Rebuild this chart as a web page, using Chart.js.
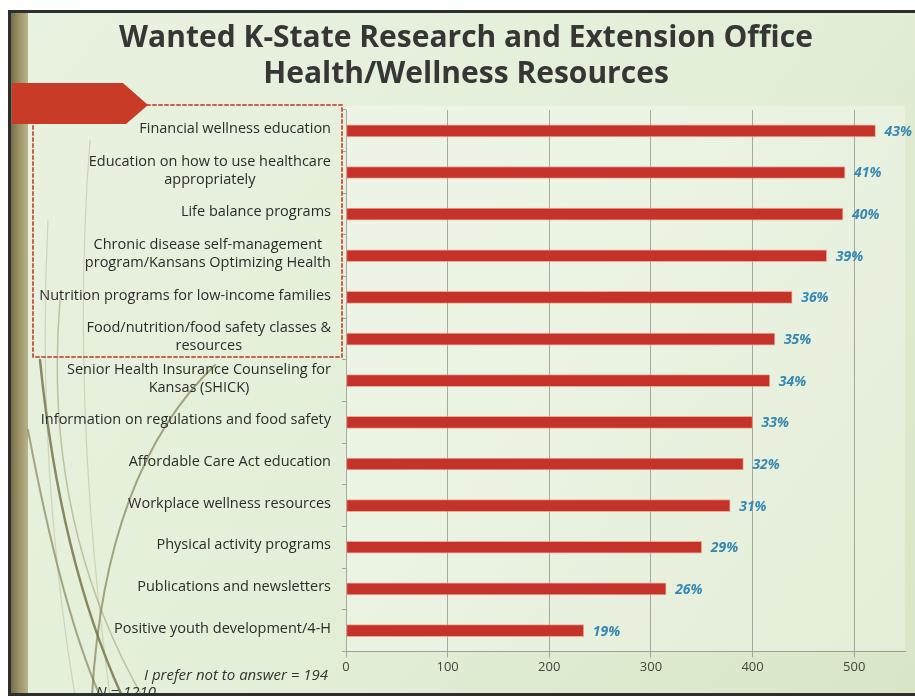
<!doctype html>
<html lang="en">
<head>
  <meta charset="utf-8">
  <title>Wanted K-State Research and Extension Office Health/Wellness Resources</title>
  <script src="https://cdn.jsdelivr.net/npm/chart.js"></script>
  <style>
    html, body { margin: 0; padding: 0; background: #fff; }
    #wrap { width: 915px; height: 696px; }
  </style>
</head>
<body>
<div id="wrap"><canvas id="bar-chart" width="915" height="696"></canvas></div>

<script>
// data (counts out of N = 1210)
var resources = [
  ["Financial wellness education"],
  ["Education on how to use healthcare", "appropriately"],
  ["Life balance programs"],
  ["Chronic disease self-management", "program/Kansans Optimizing Health"],
  ["Nutrition programs for low-income families"],
  ["Food/nutrition/food safety classes &", "resources"],
  ["Senior Health Insurance Counseling for", "Kansas (SHICK)"],
  ["Information on regulations and food safety"],
  ["Affordable Care Act education"],
  ["Workplace wellness resources"],
  ["Physical activity programs"],
  ["Publications and newsletters"],
  ["Positive youth development/4-H"]
];
var counts = [521, 491, 489, 473, 439, 422, 417, 400, 391, 378, 350, 315, 234];
var percents = ["43%", "41%", "40%", "39%", "36%", "35%", "34%", "33%", "32%", "31%", "29%", "26%", "19%"];
var xTicks = [0, 100, 200, 300, 400, 500];

var titleLines = ["Wanted K-State Research and Extension Office", "Health/Wellness Resources"];
var noAnswer = "I prefer not to answer = 194";
var total = "N = 1210";

var fontName = '"Open Sans", "DejaVu Sans", sans-serif';

// slide background, border strips, grass and the red banner
var slideBg = {
  id: 'slideBg',
  beforeDraw: function(chart) {
    var ctx = chart.ctx;
    var W = chart.width, H = chart.height;
    ctx.save();
    ctx.fillStyle = '#ffffff';
    ctx.fillRect(0, 0, W, H);

    var g = ctx.createLinearGradient(0, 0, W, H);
    g.addColorStop(0, '#e8f2e0');
    g.addColorStop(0.5, '#e4efd9');
    g.addColorStop(1, '#d8e6c6');
    ctx.fillStyle = g;
    ctx.fillRect(10, 12, W - 10, H - 12);

    // lighter plot area
    var a = chart.chartArea;
    ctx.fillStyle = 'rgba(255,255,255,0.3)';
    ctx.fillRect(a.left, a.top - 4, a.right - a.left, a.bottom - a.top + 4);

    // left olive strip
    var s = ctx.createLinearGradient(10, 0, 28, 0);
    s.addColorStop(0, '#6e6a45');
    s.addColorStop(0.5, '#9c9266');
    s.addColorStop(1, '#b8b48a');
    ctx.fillStyle = s;
    ctx.fillRect(10, 12, 18, H - 12);

    // grass blades
    ctx.lineCap = 'round';
    var blades = [
      [40, 360, 60, 560, 122, 696, 'rgba(105,100,55,0.75)', 2.5],
      [28, 430, 62, 610, 100, 696, 'rgba(120,115,65,0.6)', 2],
      [215, 365, 105, 470, 92, 696, 'rgba(115,110,60,0.6)', 2],
      [60, 300, 42, 520, 142, 696, 'rgba(140,135,85,0.45)', 1.5],
      [90, 140, 70, 400, 110, 696, 'rgba(150,145,95,0.3)', 1.2],
      [48, 220, 36, 460, 75, 696, 'rgba(150,145,95,0.3)', 1.2]
    ];
    blades.forEach(function(b) {
      ctx.beginPath();
      ctx.moveTo(b[0], b[1]);
      ctx.quadraticCurveTo(b[2], b[3], b[4], b[5]);
      ctx.strokeStyle = b[6];
      ctx.lineWidth = b[7];
      ctx.stroke();
    });

    // dashed highlight box
    ctx.setLineDash([3, 3]);
    ctx.strokeStyle = 'rgba(195,70,55,0.85)';
    ctx.lineWidth = 2;
    ctx.strokeRect(33, 105, 309, 252);
    ctx.setLineDash([]);

    // red banner arrow
    ctx.beginPath();
    ctx.moveTo(12, 83);
    ctx.lineTo(123, 83);
    ctx.lineTo(148, 105);
    ctx.lineTo(126, 124);
    ctx.lineTo(12, 124);
    ctx.closePath();
    ctx.fillStyle = '#c73b27';
    ctx.fill();

    // top and left dark edges
    ctx.fillStyle = '#2e2e2e';
    ctx.fillRect(8, 10, W - 8, 3);
    ctx.fillRect(8, 10, 3, H - 10);
    ctx.restore();
  },
  afterDraw: function(chart) {
    var ctx = chart.ctx;
    var W = chart.width, H = chart.height;
    ctx.save();
    // title
    ctx.fillStyle = '#363636';
    ctx.font = 'bold 30px ' + fontName;
    ctx.textAlign = 'center';
    ctx.textBaseline = 'middle';
    ctx.fillText(titleLines[0], 466, 38);
    ctx.fillText(titleLines[1], 466, 74);

    // footnotes
    ctx.font = 'italic 15px ' + fontName;
    ctx.fillStyle = '#333';
    ctx.textAlign = 'right';
    ctx.fillText(noAnswer, 328, 676);
    ctx.textAlign = 'left';
    ctx.textBaseline = 'top';
    ctx.fillText(total, 96, 685);

    // bottom dark edge
    ctx.fillStyle = '#2e2e2e';
    ctx.fillRect(8, H - 3, W - 8, 3);
    ctx.restore();
  }
};

// category labels: single lines right-aligned, two-line ones centred as a block
var catLabels = {
  id: 'catLabels',
  afterDraw: function(chart) {
    var ctx = chart.ctx;
    var y = chart.scales.y;
    var right = 331;
    ctx.save();
    ctx.font = '14.5px ' + fontName;
    ctx.fillStyle = '#2b2b2b';
    ctx.textBaseline = 'middle';
    ctx.textAlign = 'center';
    for (var i = 0; i < resources.length; i++) {
      var lines = resources[i];
      var widest = 0;
      lines.forEach(function(l) { widest = Math.max(widest, ctx.measureText(l).width); });
      var cy = y.getPixelForValue(i) - 2;
      var lh = 18;
      var top = cy - (lines.length - 1) * lh / 2;
      for (var j = 0; j < lines.length; j++) {
        ctx.fillText(lines[j], right - widest / 2, top + j * lh);
      }
    }
    ctx.restore();
  }
};

// percent labels at the end of each bar
var pctLabels = {
  id: 'pctLabels',
  afterDatasetsDraw: function(chart) {
    var ctx = chart.ctx;
    var meta = chart.getDatasetMeta(0);
    ctx.save();
    ctx.font = 'italic bold 14px ' + fontName;
    ctx.fillStyle = '#3688b2';
    ctx.textAlign = 'left';
    ctx.textBaseline = 'middle';
    meta.data.forEach(function(bar, i) {
      ctx.fillText(percents[i], bar.x + 9, bar.y + 1);
    });
    ctx.restore();
  }
};

new Chart(document.getElementById("bar-chart"), {
  type: 'bar',
  data: {
    labels: resources,
    datasets: [{
      data: counts,
      backgroundColor: '#c4322a',
      borderColor: 'rgba(235,140,120,0.7)',
      borderWidth: 1,
      borderSkipped: false,
      barThickness: 12
    }]
  },
  options: {
    indexAxis: 'y',
    responsive: false,
    animation: false,
    layout: { padding: { left: 342, top: 110, right: 10, bottom: 19 } },
    plugins: {
      legend: { display: false },
      title: { display: false },
      tooltip: { enabled: false }
    },
    scales: {
      x: {
        min: 0,
        max: 550,
        afterBuildTicks: function(scale) {
          scale.ticks = xTicks.map(function(v) { return { value: v }; });
        },
        ticks: {
          color: '#444',
          font: { family: fontName, size: 13 },
          padding: 2
        },
        grid: {
          color: 'rgba(110,110,110,0.55)',
          lineWidth: 1,
          tickLength: 6
        },
        border: { display: true, color: 'rgba(140,140,140,0.8)' }
      },
      y: {
        ticks: { display: false },
        grid: {
          drawOnChartArea: false,
          drawTicks: true,
          tickLength: 4,
          offset: true,
          color: 'rgba(120,120,120,0.6)'
        },
        border: { display: false }
      }
    }
  },
  plugins: [slideBg, catLabels, pctLabels]
});
</script>
</body>
</html>
